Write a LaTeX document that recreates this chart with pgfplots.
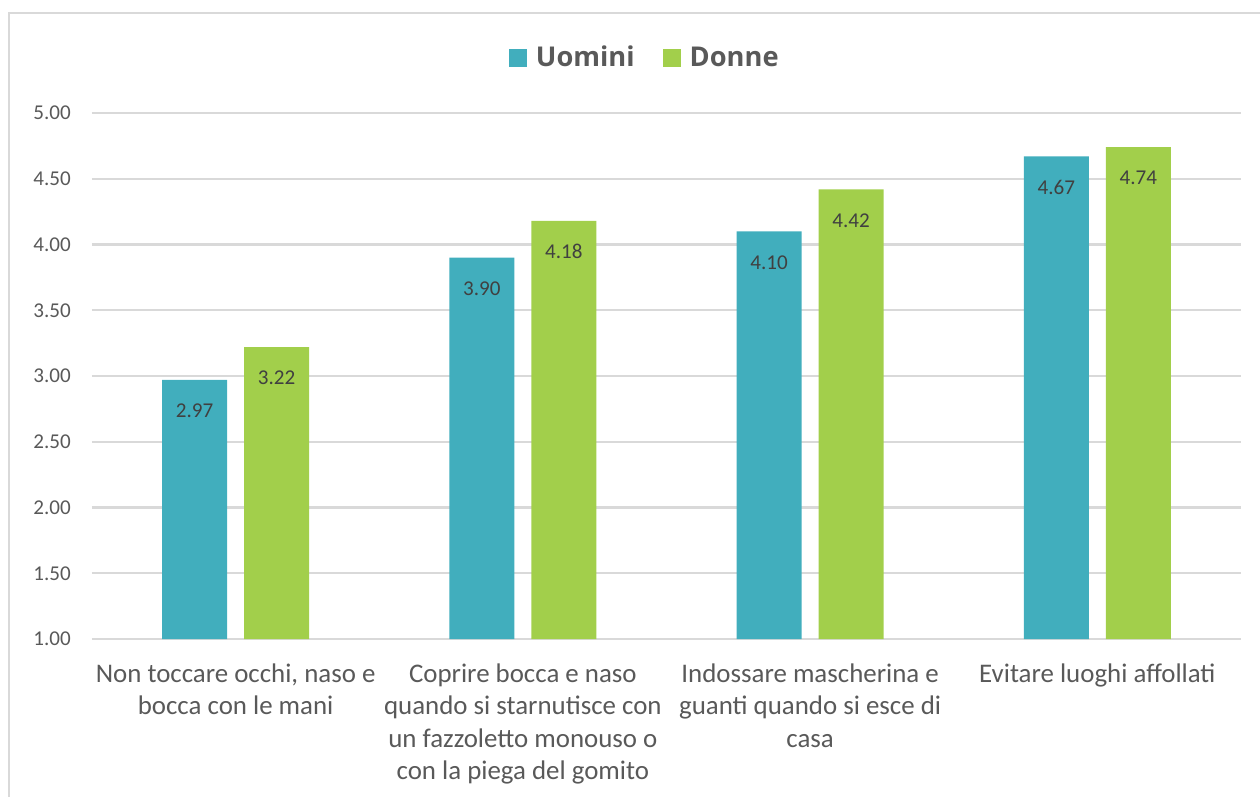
\documentclass[border=0pt]{standalone}
\usepackage{pgfplots}
\pgfplotsset{compat=1.18}
\usepackage{fontspec}
\setmainfont{Carlito}
\newfontfamily\legfont{Open Sans}
\definecolor{uomini}{HTML}{41AEBD}
\definecolor{donne}{HTML}{A2CF4B}
\definecolor{gridc}{HTML}{D9D9D9}
\definecolor{txt}{HTML}{595959}
\definecolor{lab}{HTML}{404040}
\begin{document}
\begin{tikzpicture}
\useasboundingbox (0,0) rectangle (25.2,15.92);
\draw[gridc, line width=1.2pt] (0.18,-1) -- (0.18,15.66) -- (26,15.66);
\begin{axis}[
  at={(1.84cm,3.14cm)}, anchor=south west,
  scale only axis, width=22.98cm, height=10.52cm,
  ymin=1, ymax=5, xmin=-0.5, xmax=3.5,
  ytick={1,1.5,...,5},
  /pgf/number format/assume math mode=true,
  yticklabel={\pgfmathprintnumber[fixed,fixed zerofill,precision=2]{\tick}},
  yticklabel style={font=\fontsize{12}{14}\selectfont, text=txt, xshift=-0.3cm},
  xtick={0,1,2,3},
  xticklabels={{Non toccare occhi, naso e\\bocca con le mani},
               {Coprire bocca e naso\\quando si starnutisce con\\un fazzoletto monouso o\\con la piega del gomito},
               {Indossare mascherina e\\guanti quando si esce di\\casa},
               {Evitare luoghi affollati}},
  xticklabel style={font=\fontsize{15.3}{18.4}\selectfont, text=txt, align=center, anchor=north, yshift=-0.37cm},
  major tick length=0pt,
  ymajorgrids, grid style={gridc, line width=1.2pt},
  axis line style={draw=none},
  ybar, bar width=1.3cm,
  nodes near coords,
  nodes near coords style={font=\fontsize{12}{14}\selectfont, text=lab, anchor=center, yshift=-0.62cm,
     /pgf/number format/.cd, fixed, fixed zerofill, precision=2, assume math mode=true},
  legend style={at={(0.482,1.105)}, anchor=center, draw=none, legend columns=2,
     font=\legfont\bfseries\fontsize{15.5}{18}\selectfont, text=txt,
     /tikz/every odd column/.append style={column sep=0.1cm},
     /tikz/every even column/.append style={column sep=0.5cm}},
  legend image code/.code={\fill[#1] (0cm,-0.18cm) rectangle (0.36cm,0.18cm);},
]
\addplot[fill=uomini, draw=none, bar shift=-0.82cm] coordinates {(0,2.97) (1,3.90) (2,4.10) (3,4.67)};
\addlegendentry{Uomini}
\addplot[fill=donne, draw=none, bar shift=0.82cm] coordinates {(0,3.22) (1,4.18) (2,4.42) (3,4.74)};
\addlegendentry{Donne}
\end{axis}
\end{tikzpicture}
\end{document}
